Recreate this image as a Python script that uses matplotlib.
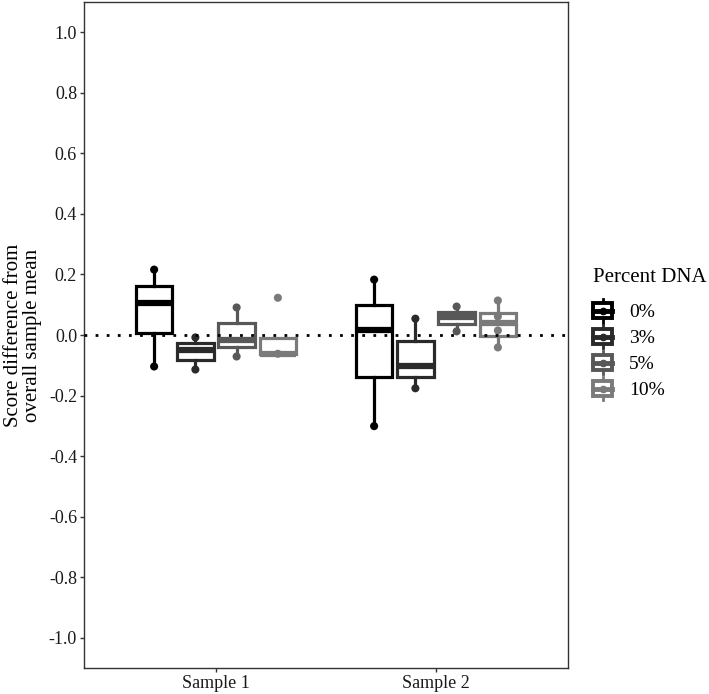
import numpy as np
import matplotlib
matplotlib.use('Agg')
import matplotlib.pyplot as plt
from matplotlib.legend_handler import HandlerBase
from matplotlib.patches import Rectangle
from matplotlib.lines import Line2D

plt.rcParams['font.family'] = ['Liberation Serif', 'DejaVu Serif']

samples = ['Sample 1', 'Sample 2']
percents = ['0%', '3%', '5%', '10%']
colors = ['#000000', '#2a2a2a', '#585858', '#7a7a7a']

# box stats: [whislo, q1, med, q3, whishi]
s1_0 = [-0.104, 0.005, 0.107, 0.163, 0.216]
s1_3 = [-0.114, -0.084, -0.050, -0.028, -0.008]
s1_5 = [-0.071, -0.040, -0.015, 0.038, 0.091]
s1_10 = [-0.062, -0.062, -0.062, -0.011, -0.011]
s2_0 = [-0.301, -0.140, 0.018, 0.100, 0.183]
s2_3 = [-0.176, -0.140, -0.104, -0.021, 0.054]
s2_5 = [0.012, 0.035, 0.058, 0.077, 0.094]
s2_10 = [-0.041, -0.002, 0.041, 0.074, 0.114]

# visible data points
p1_0 = [0.216, -0.104]
p1_3 = [-0.008, -0.114]
p1_5 = [0.091, -0.071]
p1_10 = [0.123, -0.062]
p2_0 = [0.183, -0.301]
p2_3 = [0.054, -0.176]
p2_5 = [0.094, 0.012]
p2_10 = [0.114, 0.061, 0.015, -0.041]

stats = [[s1_0, s1_3, s1_5, s1_10], [s2_0, s2_3, s2_5, s2_10]]
points = [[p1_0, p1_3, p1_5, p1_10], [p2_0, p2_3, p2_5, p2_10]]

fig = plt.figure(figsize=(7.09, 6.94), dpi=100)
ax = fig.add_axes([84/709, 26/694, 484/709, 666/694])

dodge = 0.75 / 4
for i in range(len(samples)):
    for j in range(len(percents)):
        x = i + 1 + (j - 1.5) * dodge
        lo, q1, med, q3, hi = stats[i][j]
        c = colors[j]
        st = dict(whislo=lo, q1=q1, med=med, q3=q3, whishi=hi, fliers=[])
        ax.bxp([st], positions=[x], widths=dodge * 0.88, showcaps=False,
               showfliers=False, patch_artist=True,
               boxprops=dict(facecolor='white', edgecolor=c, linewidth=2.3),
               whiskerprops=dict(color=c, linewidth=2.3),
               medianprops=dict(color=c, linewidth=4.5, solid_capstyle='butt'),
               zorder=2)
        ax.scatter([x] * len(points[i][j]), points[i][j], s=34, color=c,
                   zorder=3, edgecolors='none')

ax.axhline(0, color='black', linestyle=(0, (1, 3)), linewidth=2, zorder=4)

ax.set_xlim(0.4, 2.6)
ax.set_ylim(-1.1, 1.1)
ax.set_xticks([1, 2])
ax.set_xticklabels(samples, fontsize=13)
yt = np.round(np.arange(-1.0, 1.01, 0.2), 1)
ax.set_yticks(yt)
ax.set_yticklabels(['%.1f' % v if v != 0 else '0.0' for v in yt], fontsize=13)
ax.tick_params(length=3, width=1, color='#333333', labelcolor='#1a1a1a', pad=2)
for sp in ax.spines.values():
    sp.set_linewidth(1)
    sp.set_color('#333333')
ax.set_ylabel('Score difference from\noverall sample mean', fontsize=15,
              labelpad=5, linespacing=1.0)


class BoxHandler(HandlerBase):
    def create_artists(self, legend, orig_handle, xdescent, ydescent,
                       width, height, fontsize, trans):
        c = orig_handle.get_color()
        cx = width / 2 - xdescent
        by = height / 2 - ydescent
        w = 14
        h = 10.5
        wl = Line2D([cx, cx], [by - 8.5, by + 8.5], color=c,
                    linewidth=2.0, transform=trans)
        r = Rectangle((cx - w / 2, by - h / 2), w, h, facecolor='white',
                      edgecolor=c, linewidth=2.8, transform=trans)
        m = Line2D([cx - w / 2, cx + w / 2], [by, by], color=c, linewidth=3.5,
                   transform=trans)
        d = Line2D([cx], [by], marker='o', markersize=4.5, color=c,
                   transform=trans)
        return [wl, r, m, d]


fig.text(593/709, 1 - 277/694, 'Percent DNA', fontsize=15, va='center',
         ha='left')
handles = [Line2D([], [], color=c) for c in colors]
fig.legend(handles, percents, handler_map={Line2D: BoxHandler()},
           loc='upper left', bbox_to_anchor=(593/709, 1 - 302/694),
           frameon=False, borderpad=0, borderaxespad=0,
           fontsize=14, handlelength=1.0, handleheight=1.0,
           labelspacing=0.34, handletextpad=0.85)

fig.savefig('out.png', dpi=100)
